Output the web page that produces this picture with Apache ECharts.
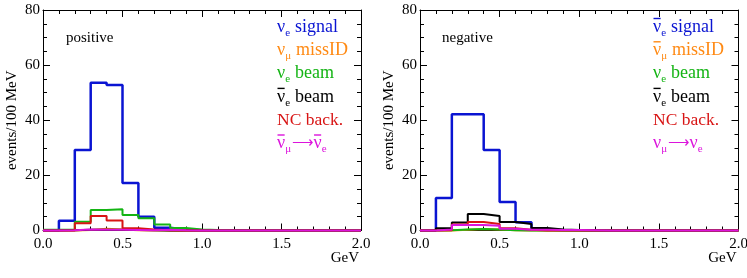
<!DOCTYPE html>
<html><head><meta charset="utf-8">
<script src="https://cdn.jsdelivr.net/npm/echarts@6/dist/echarts.min.js"></script>
<style>html,body{margin:0;padding:0;background:#fff}#c{width:747px;height:278px}</style>
</head><body><div id="c"></div>
<script>
// bin edges (GeV)
const binEdges = [0.0,0.1,0.2,0.3,0.4,0.5,0.6,0.7,0.8,0.9,1.0,1.1,1.2,1.3,1.4,1.5,1.6,1.7,1.8,1.9,2.0];
const xTickLabels = ['0.0','0.5','1.0','1.5','2.0'];
const yTickLabels = ['0','20','40','60','80'];

// positive panel (events / 100 MeV per bin)
const posSignal   = [0, 3.5, 29.2, 53.6, 52.8, 17.2, 5.0, 1.0, 0.3, 0.1, 0, 0, 0, 0, 0, 0, 0, 0, 0, 0];
const posMissID   = [0, 0, 0.2, 0.6, 0.4, 0.1, 0, 0, 0, 0, 0, 0, 0, 0, 0, 0, 0, 0, 0, 0];
const posVeBeam   = [0.3, 0.4, 3.2, 7.4, 7.7, 5.6, 4.4, 2.2, 0.9, 0.4, 0.2, 0.1, 0, 0, 0, 0, 0, 0, 0, 0];
const posVebBeam  = [0, 0.1, 0.3, 0.3, 0.3, 0.2, 0.1, 0, 0, 0, 0, 0, 0, 0, 0, 0, 0, 0, 0, 0];
const posNC       = [0, 0, 2.6, 5.3, 3.6, 0.8, 0.4, 0.1, 0, 0, 0, 0, 0, 0, 0, 0, 0, 0, 0, 0];
const posOsc      = [0, 0.1, 0.4, 0.3, 0.3, 0.2, 0.1, 0.3, 0.1, 0, 0, 0, 0, 0, 0, 0, 0, 0, 0, 0];

// negative panel
const negSignal   = [0, 11.8, 42.2, 42.2, 29.2, 10.3, 3.0, 0.4, 0.1, 0, 0, 0, 0, 0, 0, 0, 0, 0, 0, 0];
const negMissID   = [0, 0, 0.3, 0.5, 0.4, 0.1, 0, 0, 0, 0, 0, 0, 0, 0, 0, 0, 0, 0, 0, 0];
const negVeBeam   = [0, 0.1, 0.4, 0.5, 0.4, 0.1, 0, 0, 0, 0, 0, 0, 0, 0, 0, 0, 0, 0, 0, 0];
const negVebBeam  = [0, 0.8, 2.9, 6.0, 5.3, 3.1, 2.4, 0.9, 0.4, 0.2, 0.1, 0, 0, 0, 0, 0, 0, 0, 0, 0];
const negNC       = [0, 0.1, 2.2, 3.1, 2.4, 0.8, 0.3, 0, 0, 0, 0, 0, 0, 0, 0, 0, 0, 0, 0, 0];
const negOsc      = [0, 0.4, 2.0, 2.0, 1.7, 0.6, 0.3, 0.3, 0.2, 0.2, 0.1, 0, 0, 0, 0, 0, 0, 0, 0, 0];

const FONT = 'Liberation Serif';
const COLORS = {blue:'#0a14d2', orange:'#ff8a14', green:'#14b414', black:'#000000', red:'#d81414', magenta:'#dc14dc'};
const NU = '\u03bd', MU = '\u03bc', ARROW = '\u27f6';

// legend text tokens: t = text, b = overbar, s = subscript, f = font size override
const posLegend = [
  ['p_signal','blue',   [{t:NU},{t:'e',s:1},{t:' signal'}]],
  ['p_missid','orange', [{t:NU},{t:MU,s:1},{t:' missID'}]],
  ['p_vebeam','green',  [{t:NU},{t:'e',s:1},{t:' beam'}]],
  ['p_vebbeam','black', [{t:NU,b:1},{t:'e',s:1},{t:' beam'}]],
  ['p_nc','red',        [{t:'NC back.',f:17.5}]],
  ['p_osc','magenta',   [{t:NU,b:1},{t:MU,s:1},{t:ARROW,f:15},{t:NU,b:1},{t:'e',s:1}]]
];
const negLegend = [
  ['n_signal','blue',   [{t:NU,b:1},{t:'e',s:1},{t:' signal'}]],
  ['n_missid','orange', [{t:NU,b:1},{t:MU,s:1},{t:' missID'}]],
  ['n_vebeam','green',  [{t:NU},{t:'e',s:1},{t:' beam'}]],
  ['n_vebbeam','black', [{t:NU,b:1},{t:'e',s:1},{t:' beam'}]],
  ['n_nc','red',        [{t:'NC back.',f:17.5}]],
  ['n_osc','magenta',   [{t:NU},{t:MU,s:1},{t:ARROW,f:15},{t:NU},{t:'e',s:1}]]
];

const MAIN_SIZE = 18, SUB_SIZE = 11;
const mctx = document.createElement('canvas').getContext('2d');
function fontOf(size){ return size + 'px "Liberation Serif"'; }
function tw(text, font){ mctx.font = font; return mctx.measureText(text).width; }

function legendGraphics(entries, x0, y0, dy){
  const els = [];
  entries.forEach((e, row) => {
    const col = COLORS[e[1]];
    const yc = y0 + row * dy;
    let x = x0;
    e[2].forEach(tok => {
      const font = fontOf(tok.s ? SUB_SIZE : (tok.f || MAIN_SIZE));
      const w = tw(tok.t, font);
      els.push({type:'text', x, y: tok.s ? yc + 6 : yc, silent:true,
        style:{text: tok.t, font, fill: col, align:'left', verticalAlign:'middle'}});
      if (tok.b) {
        els.push({type:'line', silent:true,
          shape:{x1: x + 0.5, y1: yc - 8.5, x2: x + w - 0.5, y2: yc - 8.5},
          style:{stroke: col, lineWidth: 1.4}});
      }
      x += w + (tok.s ? 0.5 : 0);
    });
  });
  return els;
}

function hist(vals){
  const d = [];
  for (let i = 0; i < vals.length; i++) d.push([binEdges[i], vals[i]]);
  d.push([binEdges[vals.length], vals[vals.length-1]]);
  return d;
}
function xAxisMain(g){
  return {type:'value', gridIndex:g, min:0, max:2, interval:0.5, position:'bottom',
    axisLine:{show:true, onZero:false, lineStyle:{color:'#000', width:1}},
    axisTick:{show:true, inside:true, length:7, lineStyle:{color:'#000'}},
    minorTick:{show:true, splitNumber:5, length:4, lineStyle:{color:'#000'}},
    splitLine:{show:false},
    axisLabel:{color:'#000', fontFamily:FONT, fontSize:15, margin:6,
      formatter: v => xTickLabels[Math.round(v/0.5)]},
    name:'GeV', nameLocation:'end', nameGap:-2, nameMoveOverlap:false,
    nameTextStyle:{color:'#000', fontFamily:FONT, fontSize:15, align:'right', verticalAlign:'top', padding:[20,0,0,0]}
  };
}
function xAxisTop(g){
  return {type:'value', gridIndex:g, min:0, max:2, interval:0.5, position:'top',
    axisLine:{show:true, onZero:false, lineStyle:{color:'#000', width:1}},
    axisTick:{show:true, inside:true, length:7, lineStyle:{color:'#000'}},
    minorTick:{show:true, splitNumber:5, length:4, lineStyle:{color:'#000'}},
    splitLine:{show:false}, axisLabel:{show:false}};
}
function yAxisMain(g){
  return {type:'value', gridIndex:g, min:0, max:80, interval:20, position:'left',
    axisLine:{show:true, onZero:false, lineStyle:{color:'#000', width:1}},
    axisTick:{show:true, inside:true, length:7, lineStyle:{color:'#000'}},
    minorTick:{show:true, splitNumber:4, length:4, lineStyle:{color:'#000'}},
    splitLine:{show:false},
    axisLabel:{color:'#000', fontFamily:FONT, fontSize:15, margin:3,
      formatter: v => yTickLabels[Math.round(v/20)]},
    name:'events/100 MeV', nameLocation:'middle', nameRotate:90, nameGap:23, nameMoveOverlap:false,
    nameTextStyle:{color:'#000', fontFamily:FONT, fontSize:15}
  };
}
function yAxisRight(g){
  return {type:'value', gridIndex:g, min:0, max:80, interval:20, position:'right',
    axisLine:{show:true, onZero:false, lineStyle:{color:'#000', width:1}},
    axisTick:{show:true, inside:true, length:7, lineStyle:{color:'#000'}},
    minorTick:{show:true, splitNumber:4, length:4, lineStyle:{color:'#000'}},
    splitLine:{show:false}, axisLabel:{show:false}};
}
function mk(name, color, vals, g, w){
  return {name, type:'line', step:'end', symbol:'none', xAxisIndex:g*2, yAxisIndex:g*2,
    data: hist(vals), clip:false, animation:false,
    lineStyle:{color:COLORS[color], width:w || 2}, itemStyle:{color:COLORS[color]}};
}
const posVals = [posSignal, posMissID, posVeBeam, posVebBeam, posNC, posOsc];
const negVals = [negSignal, negMissID, negVeBeam, negVebBeam, negNC, negOsc];
const series = [];
posLegend.forEach((e,i) => series.push(mk(e[0], e[1], posVals[i], 0, i===0?2.5:2)));
negLegend.forEach((e,i) => series.push(mk(e[0], e[1], negVals[i], 1, i===0?2.5:2)));

const chart = echarts.init(document.getElementById('c'), null, {renderer:'canvas'});
chart.setOption({
  animation:false,
  backgroundColor:'#fff',
  grid:[
    {left:43, right:386, top:10, bottom:47.5, containLabel:false, outerBoundsMode:'none'},
    {left:420, right:8.5, top:10, bottom:47.5, containLabel:false, outerBoundsMode:'none'}
  ],
  xAxis:[xAxisMain(0), xAxisTop(0), xAxisMain(1), xAxisTop(1)],
  yAxis:[yAxisMain(0), yAxisRight(0), yAxisMain(1), yAxisRight(1)],
  graphic:[
    {type:'text', left:66, top:31, style:{text:'positive', fill:'#000', font:'15px "Liberation Serif"'}},
    {type:'text', left:442, top:31, style:{text:'negative', fill:'#000', font:'15px "Liberation Serif"'}}
  ].concat(legendGraphics(posLegend, 277, 27, 23.3), legendGraphics(negLegend, 653, 27, 23.3)),
  series
});
</script></body></html>
